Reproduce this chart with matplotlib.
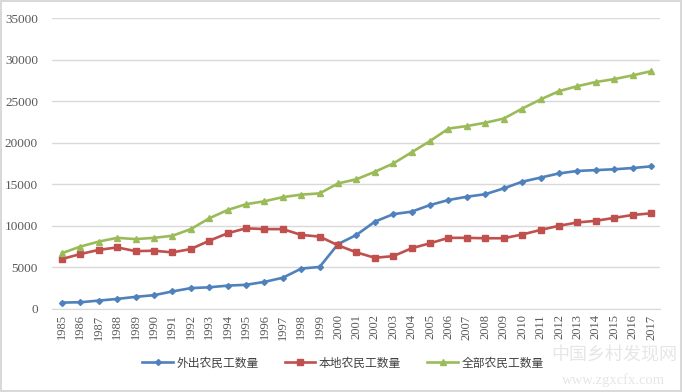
import numpy as np
import matplotlib
matplotlib.use('Agg')
import matplotlib.pyplot as plt

plt.rcParams['font.family'] = ['Liberation Serif', 'Noto Sans CJK SC', 'DejaVu Sans']

# ----------------------------------------------------------------------------------------------------
# データ
# ----------------------------------------------------------------------------------------------------
years = list(range(1985, 2018))

waichu = [760, 800, 1000, 1200, 1450, 1650, 2100, 2500, 2600, 2800,
          2900, 3250, 3750, 4850, 5050, 7800, 8900, 10500, 11400, 11700,
          12500, 13100, 13500, 13800, 14500, 15300, 15800, 16300, 16600, 16700,
          16800, 16950, 17150]

bendi = [6000, 6600, 7100, 7400, 6950, 7000, 6800, 7200, 8200, 9100,
         9700, 9600, 9600, 8900, 8700, 7650, 6800, 6150, 6350, 7300,
         7900, 8550, 8550, 8500, 8500, 8950, 9500, 10000, 10400, 10600,
         10950, 11300, 11500]

quanbu = [6700, 7500, 8100, 8550, 8400, 8550, 8800, 9600, 10900, 11900,
          12600, 12950, 13450, 13750, 13900, 15100, 15600, 16500, 17500, 18850,
          20200, 21700, 22000, 22400, 22900, 24100, 25200, 26200, 26800, 27300,
          27650, 28100, 28600]

labels = ['外出农民工数量', '本地农民工数量', '全部农民工数量']
y_ticks = [0, 5000, 10000, 15000, 20000, 25000, 30000, 35000]

# ----------------------------------------------------------------------------------------------------
# グラフ描画
# ----------------------------------------------------------------------------------------------------
fig = plt.figure(figsize=(6.82, 3.92), dpi=100)
fig.patch.set_facecolor('white')
fig.patch.set_edgecolor('#d9d9d9')
fig.patch.set_linewidth(1.5)

ax = fig.add_axes([0.076, 0.212, 0.892, 0.742])

ax.plot(years, waichu, color='#4f81bd', lw=1.9, marker='D', ms=3, label=labels[0])
ax.plot(years, bendi, color='#c0504d', lw=1.9, marker='s', ms=5, label=labels[1])
ax.plot(years, quanbu, color='#9bbb59', lw=1.9, marker='^', ms=5, label=labels[2])

ax.set_xlim(1984.45, 2017.5)
ax.set_ylim(0, 35000)
ax.set_yticks(y_ticks)
ax.set_xticks(years)
ax.set_xticklabels([str(y) for y in years], rotation=90)
ax.grid(axis='y', color='#d9d9d9', lw=1)
ax.set_axisbelow(True)
for s in ['top', 'right', 'left']:
    ax.spines[s].set_visible(False)
ax.spines['bottom'].set_color('#d9d9d9')
ax.tick_params(axis='both', length=0, colors='#595959')
ax.tick_params(axis='y', labelsize=9.5, pad=10)
ax.tick_params(axis='x', labelsize=9, pad=4)

leg = fig.legend(loc='center', bbox_to_anchor=(0.503, 0.074), ncol=3, frameon=False,
                 prop={'family': ['Noto Sans CJK SC'], 'size': 8.5},
                 handlelength=2.6, columnspacing=2.2, handletextpad=0.3)
for t in leg.get_texts():
    t.set_color('#404040')

# 透かし
fig.text(0.9, 0.092, '中国乡村发现网', fontsize=13, color='#e6e6e6',
         family=['Noto Sans CJK SC'], ha='center', va='center')
fig.text(0.9, 0.03, 'www.zgxcfx.com', fontsize=10.5, color='#e6e6e6',
         ha='center', va='center')

plt.savefig('out.png', dpi=100)
plt.close(fig)
